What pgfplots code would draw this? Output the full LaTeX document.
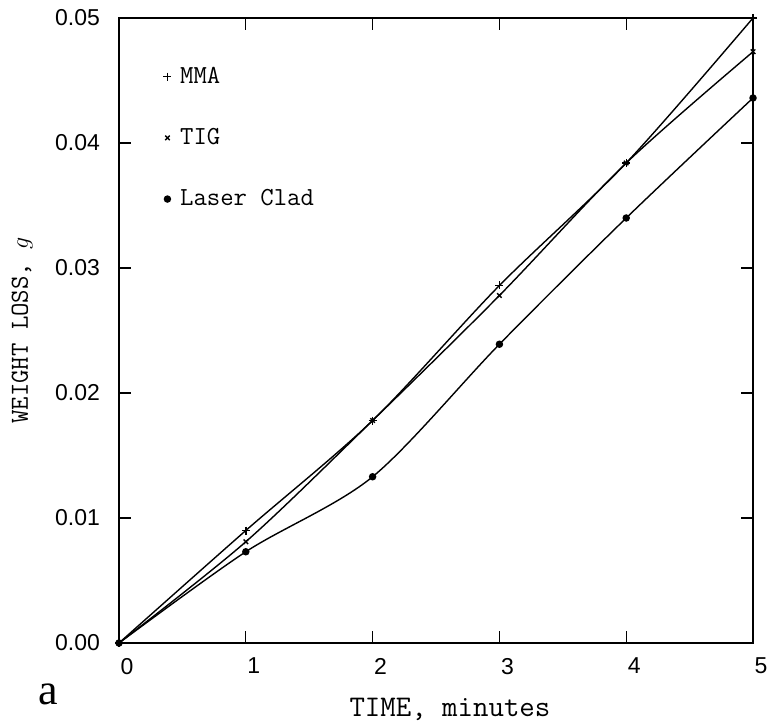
\documentclass[border=0pt]{standalone}
\usepackage{fontspec}
\usepackage{pgfplots}
\pgfplotsset{compat=1.18}
\newfontfamily\ticksf{Liberation Sans}
\newfontfamily\serifa{Liberation Serif}

\begin{document}
\begin{tikzpicture}
\begin{axis}[
  scale only axis,
  width=317pt, height=312.5pt,
  xmin=0, xmax=5, ymin=0, ymax=0.05,
  xtick={0,1,2,3,4,5},
  ytick={0,0.01,0.02,0.03,0.04,0.05},
  scaled y ticks=false,
  yticklabel style={/pgf/number format/fixed, /pgf/number format/fixed zerofill,
    /pgf/number format/precision=2, xshift=-6pt},
  /pgf/number format/assume math mode=true,
  ticklabel style={font=\ticksf\fontsize{11.5}{12}\selectfont},
  xticklabel style={xshift=4pt, yshift=-4pt},
  tick align=inside,
  major tick length=6pt,
  tick style={black, line width=0.6pt},
  axis line style={line width=0.8pt},
  xlabel={TIME, minutes},
  ylabel={WEIGHT LOSS, $g$},
  xlabel style={at={(axis description cs:0.522,-0.107)}, anchor=center,
    font=\ttfamily\fontsize{15}{16}\selectfont},
  ylabel style={at={(axis description cs:-0.153,0.5)}, anchor=center,
    font=\ttfamily\fontsize{13}{14}\selectfont},
  legend style={draw=none, fill=none, at={(axis description cs:0.06,0.935)},
    anchor=north west, row sep=17pt, font=\ttfamily\fontsize{13}{14}\selectfont},
  legend cell align=left,
  legend image code/.code={\draw[#1, only marks] plot coordinates {(0cm,0cm)};
    \path (4pt,0pt);},
  clip=false,
]
\addplot[black, line width=0.7pt, smooth, mark=+, mark size=2pt,
  mark options={solid, line width=0.7pt}]
  coordinates {(0,0)(1,0.0090)(2,0.0178)(3,0.0286)(4,0.0384)(5,0.0500)};
\addplot[black, line width=0.7pt, smooth, mark=x, mark size=1.6pt,
  mark options={solid, line width=0.7pt}]
  coordinates {(0,0)(1,0.0081)(2,0.0178)(3,0.0278)(4,0.0384)(5,0.0473)};
\addplot[black, line width=0.7pt, smooth, mark=*, mark size=1.5pt,
  mark options={solid, fill=black}]
  coordinates {(0,0)(1,0.0073)(2,0.0133)(3,0.0239)(4,0.0340)(5,0.0436)};
\legend{MMA, TIG, Laser Clad}
\node at (axis description cs:-0.111,-0.083) {\serifa\fontsize{22}{22}\selectfont a};
\coordinate (bl) at (axis description cs:-0.1877,-0.1312);
\coordinate (tr) at (axis description cs:1.0268,1.0288);
\end{axis}
\pgfresetboundingbox
\path[use as bounding box] (bl) rectangle (tr);
\end{tikzpicture}
\end{document}
